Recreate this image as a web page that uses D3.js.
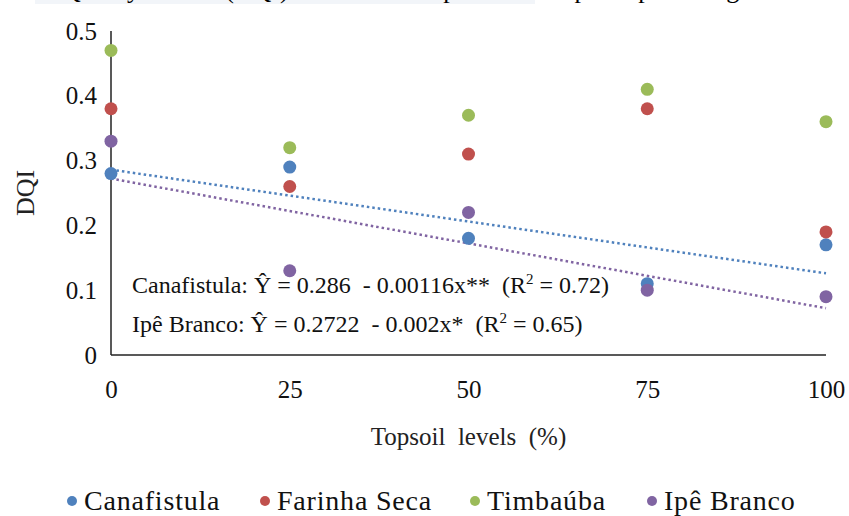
<!DOCTYPE html>
<html>
<head>
<meta charset="utf-8">
<script src="https://cdn.jsdelivr.net/npm/d3@7"></script>
<style>
  body { margin: 0; background: #fff; }
  svg { display: block; font-family: "Liberation Serif", "Times New Roman", serif; }
</style>
</head>
<body>
<svg class="sc" width="849" height="516"></svg>
<script>
// topsoil levels (%)
const levels = [0, 25, 50, 75, 100]
const species = ['Canafistula', 'Farinha Seca', 'Timbaúba', 'Ipê Branco']
const colors = ['#4f81bd', '#c0504d', '#9bbb59', '#8064a2']

const canafistula = [0.28, 0.29, 0.18, 0.11, 0.17]
const farinhaSeca = [0.38, 0.26, 0.31, 0.38, 0.19]
const timbauba = [0.47, 0.32, 0.37, 0.41, 0.36]
const ipeBranco = [0.33, 0.13, 0.22, 0.10, 0.09]

// fitted lines as drawn (value at 0% and 100%)
const trendCanafistula = [0.286, 0.126]
const trendIpeBranco = [0.2722, 0.0722]

const yTicks = [0, 0.1, 0.2, 0.3, 0.4, 0.5]
const xTicks = [0, 25, 50, 75, 100]

const svg = d3.select('.sc')
const margin = { top: 31, left: 111, right: 23, bottom: 161 }
const width = +svg.attr('width')
const height = +svg.attr('height')
const innerW = width - margin.left - margin.right
const innerH = height - margin.top - margin.bottom

const xscale = d3.scaleLinear().domain([0, 100]).range([0, innerW])
const yscale = d3.scaleLinear().domain([0, 0.5]).range([innerH, 0])

// cropped caption band at the very top
svg.append('rect').attr('x', 35).attr('y', 0).attr('width', 500).attr('height', 4).attr('fill', '#f2f5f9')
svg.append('text').attr('x', 62).attr('y', -2).attr('font-size', 26).style('white-space', 'pre')
  .text('Quality  Index  (DQI)  of  the  tree  species  in  topsoil  percentages')

const g = svg.append('g').attr('transform', `translate(${margin.left},${margin.top})`)

const yAxis = d3.axisLeft(yscale).tickValues(yTicks).tickSize(0).tickPadding(14)
  .tickFormat(d => d === 0 ? '0' : d3.format('.1f')(d))
const yg = g.append('g').call(yAxis)
yg.select('.domain').attr('stroke', '#222').attr('stroke-width', 1.5).attr('d', `M0,0V${innerH}`)
yg.selectAll('text').attr('font-size', 25).attr('fill', '#111').attr('font-family', 'Liberation Serif')

const xAxis = d3.axisBottom(xscale).tickValues(xTicks).tickSize(0).tickPadding(25)
const xg = g.append('g').attr('transform', `translate(0,${innerH})`).call(xAxis)
xg.select('.domain').attr('stroke', '#222').attr('stroke-width', 1.5).attr('d', `M0,0H${innerW}`)
xg.selectAll('text').attr('font-size', 25).attr('fill', '#111').attr('font-family', 'Liberation Serif')

// axis titles
svg.append('text')
  .attr('transform', `translate(34,${margin.top + yscale(0.25)}) rotate(-90)`)
  .attr('text-anchor', 'middle').attr('font-size', 26).attr('fill', '#222')
  .text('DQI')
svg.append('text')
  .attr('x', margin.left + xscale(50)).attr('y', 445)
  .attr('text-anchor', 'middle').attr('font-size', 25).attr('fill', '#222')
  .style('white-space', 'pre')
  .text('Topsoil  levels  (%)')

// trend lines
const trends = [[trendCanafistula, colors[0]], [trendIpeBranco, colors[3]]]
trends.forEach(([t, c]) => {
  g.append('line')
    .attr('x1', xscale(0)).attr('y1', yscale(t[0]))
    .attr('x2', xscale(100)).attr('y2', yscale(t[1]))
    .attr('stroke', c).attr('stroke-width', 2.5)
    .attr('stroke-dasharray', '2.5,3')
})

// points
const seriesVals = [canafistula, farinhaSeca, timbauba, ipeBranco]
seriesVals.forEach((vals, i) => {
  g.selectAll('circle.s' + i).data(vals).enter().append('circle')
    .attr('class', 's' + i)
    .attr('cx', (d, j) => xscale(levels[j]))
    .attr('cy', d => yscale(d))
    .attr('r', 6.5)
    .attr('fill', colors[i])
})

// equations
const eq = g.append('g').attr('font-size', 24).attr('fill', '#111')
const l1 = eq.append('text').attr('x', 21).attr('y', 262).style('white-space', 'pre')
l1.append('tspan').text('Canafistula: Ŷ = 0.286  - 0.00116x**  (R')
l1.append('tspan').attr('dy', -9).attr('font-size', 15).text('2')
l1.append('tspan').attr('dy', 9).text(' = 0.72)')
const l2 = eq.append('text').attr('x', 21).attr('y', 301).style('white-space', 'pre')
l2.append('tspan').text('Ipê Branco: Ŷ = 0.2722  - 0.002x*  (R')
l2.append('tspan').attr('dy', -9).attr('font-size', 15).text('2')
l2.append('tspan').attr('dy', 9).text(' = 0.65)')

// legend
const legendX = [72, 265, 475, 652]
const lg = svg.append('g').attr('transform', 'translate(0,501)')
species.forEach((s, i) => {
  lg.append('circle').attr('cx', legendX[i]).attr('cy', 0).attr('r', 5).attr('fill', colors[i])
  lg.append('text').attr('x', legendX[i] + 12).attr('y', 9)
    .attr('font-size', 28).attr('fill', '#111').attr('letter-spacing', 0.8)
    .text(s)
})
</script>
</body>
</html>
